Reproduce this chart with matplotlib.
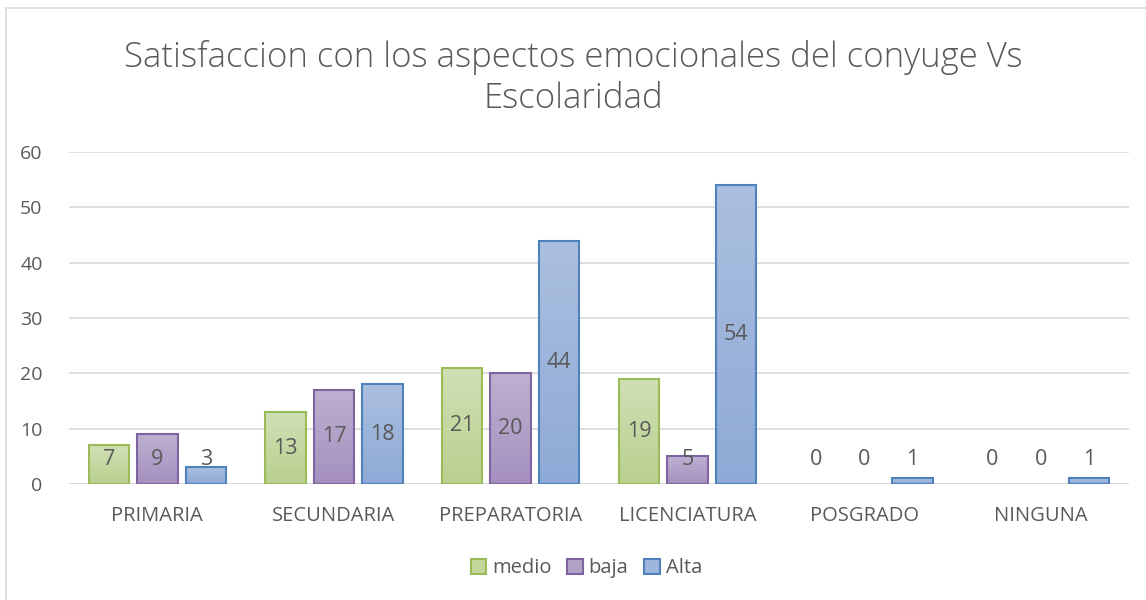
import numpy as np
import matplotlib
matplotlib.use('Agg')
import matplotlib.pyplot as plt
from matplotlib.patches import Rectangle
from matplotlib.colors import LinearSegmentedColormap

categorias = ["PRIMARIA", "SECUNDARIA", "PREPARATORIA", "LICENCIATURA", "POSGRADO", "NINGUNA"]
medio = [7, 13, 21, 19, 0, 0]
baja = [9, 17, 20, 5, 0, 0]
alta = [3, 18, 44, 54, 1, 1]
series = ["medio", "baja", "Alta"]

titulo = "Satisfaccion con los aspectos emocionales del conyuge Vs\nEscolaridad"

# (arriba, abajo) para el degradado de cada serie
degradados = [("#d0e0b5", "#b9d08f"), ("#bdb0d0", "#a590bf"), ("#abbfdf", "#8eaad6")]
caras = ["#c3d69b", "#b3a2c7", "#9fb6dc"]
bordes = ["#9bbb59", "#8064a2", "#4f81bd"]
gris = "#595959"

plt.rcParams['font.family'] = ['Open Sans', 'DejaVu Sans']

fig = plt.figure(figsize=(11.46, 6.0), dpi=100)
ax = fig.add_axes([69 / 1146, 116 / 600, 1060 / 1146, 332 / 600])

# marco gris del grafico
fig.patches.append(Rectangle((6 / 1146, -0.1), 1.2, 0.1 + 592 / 600, transform=fig.transFigure,
                             fill=False, edgecolor="#d9d9d9", linewidth=1.2))

x = np.arange(len(categorias))
ancho = 0.229
paso = 0.274
grad = np.linspace(0, 1, 64).reshape(-1, 1)
for i, (nombre, vals) in enumerate(zip(series, [medio, baja, alta])):
    pos = x + (i - 1) * paso
    cmap = LinearSegmentedColormap.from_list("g%d" % i, [degradados[i][1], degradados[i][0]])
    barras = ax.bar(pos, vals, width=ancho, color=caras[i], edgecolor=bordes[i], linewidth=1.5,
                    label=nombre, zorder=3)
    for b, v in zip(barras, vals):
        if v == 0:
            b.set_visible(False)
            continue
        b.set_facecolor("none")
        im = ax.imshow(grad, cmap=cmap, aspect="auto", origin="lower", zorder=2.5,
                       extent=(b.get_x(), b.get_x() + b.get_width(), 0, v))
        im.set_clip_path(b)
    for px, v in zip(pos, vals):
        ax.text(px, max(v / 2, 4.5), str(v), ha="center", va="center",
                fontsize=15.5, color=gris, zorder=4)

ax.set_xlim(-0.5, len(categorias) - 0.5)
ax.set_ylim(0, 60)
ax.set_yticks(range(0, 61, 10))
ax.yaxis.grid(True, color="#d9d9d9", linewidth=1.2, zorder=0)
ax.set_axisbelow(True)
for s in ax.spines.values():
    s.set_visible(False)
ax.axhline(0, color="#d9d9d9", linewidth=1.2, zorder=2)
ax.tick_params(axis="both", length=0, colors=gris)
ax.tick_params(axis="y", pad=19, labelsize=14)
ax.tick_params(axis="x", pad=16, labelsize=14.5)
ax.set_xticks(x)
ax.set_xticklabels(categorias)

fig.text(0.5, 0.87, titulo, ha="center", va="center", fontsize=25, color=gris,
         linespacing=1.25, fontweight="light")

leg = ax.legend(loc="center", bbox_to_anchor=(0.488, -0.254), ncol=3, frameon=False,
                fontsize=14.5, handlelength=0.75, handleheight=0.75, handletextpad=0.3,
                columnspacing=0.8, labelcolor=gris)
for h, c in zip(leg.legend_handles, caras):
    h.set_facecolor(c)

fig.savefig("out.png", dpi=100)
